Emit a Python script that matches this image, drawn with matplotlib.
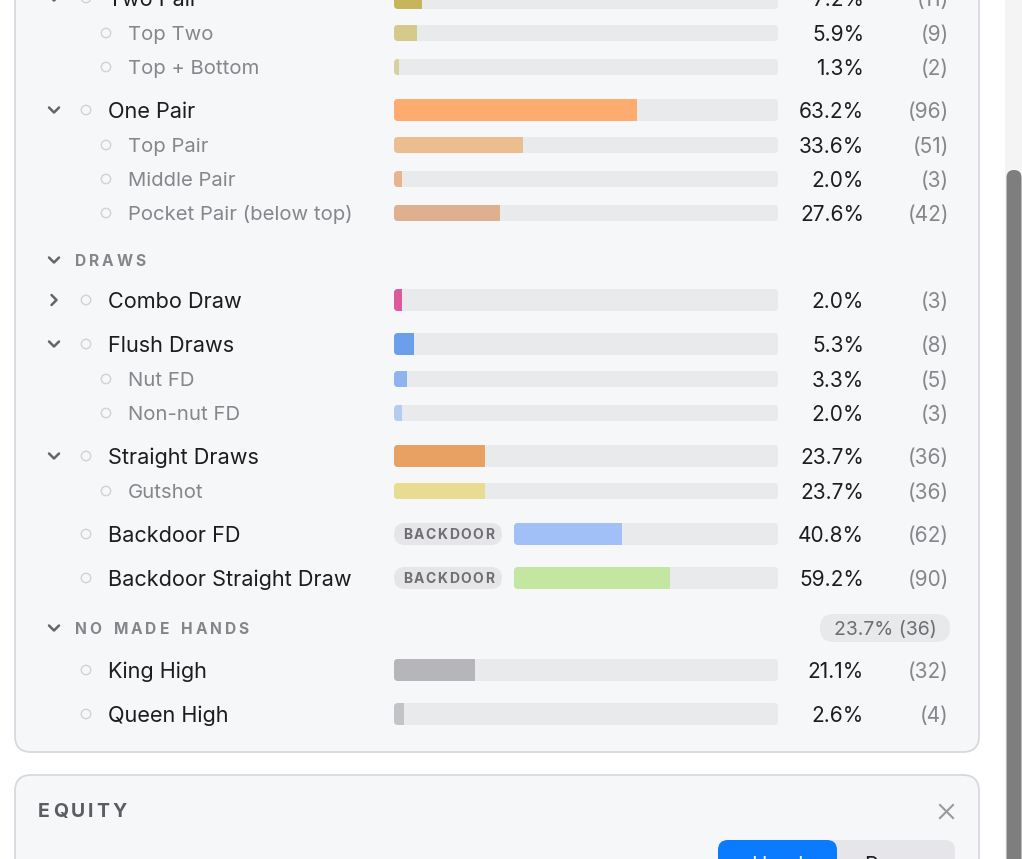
import matplotlib
matplotlib.use("Agg")
import matplotlib.pyplot as plt
from matplotlib.patches import FancyBboxPatch, Rectangle
import numpy as np

# ---------------- data ----------------
labels = ["Two Pair", "Top Two", "Top + Bottom", "One Pair", "Top Pair", "Middle Pair",
          "Pocket Pair (below top)", "Combo Draw", "Flush Draws", "Nut FD", "Non-nut FD",
          "Straight Draws", "Gutshot", "Backdoor FD", "Backdoor Straight Draw",
          "King High", "Queen High"]
pcts = [7.2, 5.9, 1.3, 63.2, 33.6, 2.0, 27.6, 2.0, 5.3, 3.3, 2.0, 23.7, 23.7, 40.8, 59.2, 21.1, 2.6]
counts = [11, 9, 2, 96, 51, 3, 42, 3, 8, 5, 3, 36, 36, 62, 90, 32, 4]
levels = [0, 1, 1, 0, 1, 1, 1, 0, 0, 1, 1, 0, 1, 0, 0, 0, 0]
chevrons = ["down", None, None, "down", None, None, None, "right", "down", None, None,
            "down", None, None, None, None, None]
backdoor = [False] * 13 + [True, True] + [False, False]
colors = ["#c9b45e", "#d5c98b", "#d9d09e", "#fdab6e", "#ecbe8f", "#e8b48f", "#deb090",
          "#dc5a9c", "#6b9feb", "#8fb3ee", "#b5cbf1", "#e8a063", "#e7dc90", "#a0c0f7",
          "#c3e6a0", "#b6b6ba", "#c4c4c8"]
headers = ["DRAWS", "NO MADE HANDS"]
header_pill = [None, "23.7% (36)"]

# ---------------- layout ----------------
W, H = 1022, 859
row_y = [-2, 33, 67, 110, 145, 179, 213, 300, 344, 379, 413, 456, 491, 534, 578, 670, 714]
header_y = [260, 628]
TY = 1.8  # text baseline nudge

FONT = ["Inter", "DejaVu Sans"]
DARK = "#1d1d1f"
GRAY = "#86868b"
plt.rcParams["font.family"] = FONT

fig = plt.figure(figsize=(W / 100, H / 100), dpi=100)
fig.patch.set_facecolor("white")
ax = fig.add_axes([0, 0, 1, 1])
ax.set_xlim(0, W)
ax.set_ylim(H, 0)
ax.axis("off")

# scrollbar area
ax.add_patch(Rectangle((1005, 0), 17, H, facecolor="#f4f4f4", edgecolor="none", zorder=0))
ax.add_patch(FancyBboxPatch((1006.5, 170), 15, 720, boxstyle="round,pad=0,rounding_size=7.5",
                            facecolor="#7e7e7e", edgecolor="none", zorder=1))

# cards
ax.add_patch(FancyBboxPatch((15, -60), 964, 812, boxstyle="round,pad=0,rounding_size=16",
                            facecolor="#f6f7f9", edgecolor="#d6d9dd", linewidth=1.3, zorder=1))
ax.add_patch(FancyBboxPatch((15, 775), 964, 140, boxstyle="round,pad=0,rounding_size=16",
                            facecolor="#f6f7f9", edgecolor="#d6d9dd", linewidth=1.3, zorder=1))

renderer = fig.canvas.get_renderer()


def spaced(x, y, s, spacing, **kw):
    for ch in s:
        if ch == " ":
            x += 6.5 + spacing
            continue
        t = ax.text(x, y, ch, **kw)
        bb = t.get_window_extent(renderer=renderer)
        x += bb.width + spacing


def chevron(x, y, kind):
    if kind == "down":
        xs, ys = [x - 5, x, x + 5], [y - 2.5, y + 2.5, y - 2.5]
    else:
        xs, ys = [x - 2.5, x + 2.5, x - 2.5], [y - 5, y, y + 5]
    ax.plot(xs, ys, color="#646469", lw=1.8, solid_capstyle="round",
            solid_joinstyle="round", zorder=3)


# rows: labels, circles, chevrons, values
for i, lab in enumerate(labels):
    y = row_y[i]
    lvl = levels[i]
    cx = 86 if lvl == 0 else 106
    ax.scatter([cx], [y], s=46, facecolor="none", edgecolor="#d2d2d6", linewidths=1.0, zorder=3)
    if chevrons[i]:
        chevron(54, y, chevrons[i])
    if lvl == 0:
        ax.text(108, y + TY, lab, fontsize=15.6, color=DARK, va="center", ha="left", zorder=3)
    else:
        ax.text(128, y + TY, lab, fontsize=14.6, color=GRAY, va="center", ha="left", zorder=3)
    ax.text(864, y + TY, f"{pcts[i]:.1f}%", fontsize=15, color=DARK, va="center", ha="right", zorder=3)
    ax.text(949, y + TY, f"({counts[i]})", fontsize=15, color=GRAY, va="center", ha="right", zorder=3)
    if backdoor[i]:
        ax.add_patch(FancyBboxPatch((394, y - 11), 108, 22, boxstyle="round,pad=0,rounding_size=11",
                                    facecolor="#e6e6e9", edgecolor="none", zorder=2))
        spaced(403, y + 1, "BACKDOOR", 1.5, fontsize=10, fontweight="bold", color="#6e6e73",
               va="center", ha="left", zorder=3)

# section headers
for hy, htxt, pill in zip(header_y, headers, header_pill):
    chevron(54, hy, "down")
    spaced(75, hy + 1, htxt, 2.8, fontsize=11.2, fontweight="bold", color="#85858a",
           va="center", ha="left", zorder=3)
    if pill:
        ax.add_patch(FancyBboxPatch((820, hy - 14), 130, 28, boxstyle="round,pad=0,rounding_size=14",
                                    facecolor="#e8e9eb", edgecolor="none", zorder=2))
        ax.text(885, hy + 1.5, pill, fontsize=14, color="#6e6e73", va="center", ha="center", zorder=3)

# second card content
spaced(38, 812, "EQUITY", 3.0, fontsize=14, fontweight="bold", color="#5c5c62",
       va="center", ha="left", zorder=3)
ax.plot([940, 953], [805, 818], color="#9a9a9e", lw=1.5, zorder=3)
ax.plot([940, 953], [818, 805], color="#9a9a9e", lw=1.5, zorder=3)
ax.add_patch(FancyBboxPatch((718, 840), 237, 60, boxstyle="round,pad=0,rounding_size=10",
                            facecolor="#e5e5ea", edgecolor="none", zorder=2))
ax.add_patch(FancyBboxPatch((718, 840), 119, 60, boxstyle="round,pad=0,rounding_size=10",
                            facecolor="#0a7aff", edgecolor="none", zorder=3))
ax.text(777, 866, "Hand", fontsize=15, color="white", va="center", ha="center", zorder=4,
        clip_on=True)
ax.text(895, 866, "Range", fontsize=15, color=DARK, va="center", ha="center", zorder=4,
        clip_on=True)


# bars: one axes per track geometry, values on a 0..100 scale
def bar_axes(x0, width_px, idx):
    bax = fig.add_axes([x0 / W, 0, width_px / W, 1])
    bax.set_xlim(0, 100)
    bax.set_ylim(H, 0)
    bax.axis("off")
    bax.patch.set_alpha(0)
    ppu = width_px / 100.0
    r = 4.0 / ppu
    ys = [row_y[i] for i in idx]
    hs = [22 if levels[i] == 0 else 16 for i in idx]
    vals = [pcts[i] for i in idx]
    cols = [colors[i] for i in idx]
    tracks = []
    for y, h in zip(ys, hs):
        tr = FancyBboxPatch((0, y - h / 2), 100, h, boxstyle=f"round,pad=0,rounding_size={r}",
                            mutation_aspect=ppu, facecolor="#e9eaec", edgecolor="none", zorder=1)
        bax.add_patch(tr)
        tracks.append(tr)
    bars = bax.barh(ys, vals, left=0, height=hs, color=cols, zorder=2)
    for b, tr in zip(bars, tracks):
        b.set_clip_path(tr)
    return bax


normal_idx = [i for i in range(len(labels)) if not backdoor[i]]
bd_idx = [i for i in range(len(labels)) if backdoor[i]]
bar_axes(394, 384, normal_idx)
bar_axes(514, 264, bd_idx)

fig.savefig("out.png", dpi=100, facecolor="white")
